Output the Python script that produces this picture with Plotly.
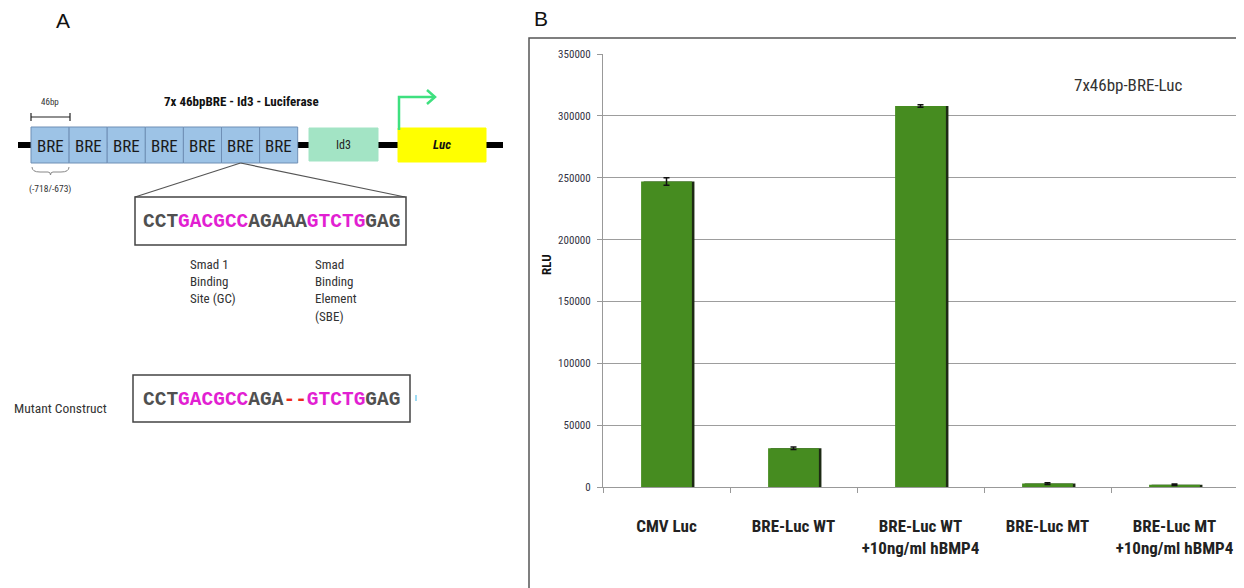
import plotly.graph_objects as go

# page pixels; the HTML body adds an 8px margin, so figure pixel = page pixel - 8
PAGE_W, PAGE_H = 1244, 588
OFF = 8
W, H = PAGE_W - OFF, PAGE_H - OFF

# ---------------- data (panel B) ----------------
categories = ["CMV Luc", "BRE-Luc WT", "BRE-Luc WT<br>+10ng/ml hBMP4",
              "BRE-Luc MT", "BRE-Luc MT<br>+10ng/ml hBMP4"]
rlu = [247000, 31500, 308000, 3000, 2000]
rlu_err = [3000, 1000, 1000, 700, 600]
y_tickvals = [0, 50000, 100000, 150000, 200000, 250000, 300000, 350000]

# ---------------- panel A text content ----------------
bre_labels = ["BRE"] * 7
construct_title = "7x 46bpBRE - Id3 - Luciferase"
wt_seq = [("CCT", "g"), ("GACGCC", "m"), ("AGAAA", "g"), ("GTCTG", "m"), ("GAG", "g")]
mt_seq = [("CCT", "g"), ("GACGCC", "m"), ("AGA", "g"), ("--", "r"), ("GTCTG", "m"), ("GAG", "g")]
smad1_lines = ["Smad 1", "Binding", "Site (GC)"]
sbe_lines = ["Smad", "Binding", "Element", "(SBE)"]

SEQ_COL = {"g": "#505050", "m": "#e21fd2", "r": "#ee2a1a"}
NARROW = "Liberation Sans Narrow, Roboto Condensed, Liberation Sans, sans-serif"
MONO = "Liberation Mono, Courier New, monospace"
GREEN = "#468c20"


def px(x):
    return (x - OFF) / W


def py(y):
    return 1 - (y - OFF) / H


def seq_html(segs):
    return "".join(f'<span style="color:{SEQ_COL[c]}">{s}</span>' for s, c in segs)


def note(x, y, text, size, color="#333", family=NARROW, xanchor="center", **kw):
    return dict(x=px(x), y=py(y), xref="paper", yref="paper", text=text,
                showarrow=False, xanchor=xanchor, yanchor="middle",
                font=dict(family=family, size=size, color=color), **kw)


def line(x0, y0, x1, y1, color, width):
    return dict(type="line", xref="paper", yref="paper",
                x0=px(x0), x1=px(x1), y0=py(y0), y1=py(y1),
                line=dict(color=color, width=width))


def rect(x0, y0, x1, y1, fill, lcolor, lwidth=1):
    return dict(type="rect", xref="paper", yref="paper",
                x0=px(x0), x1=px(x1), y0=py(y1), y1=py(y0),
                fillcolor=fill, line=dict(color=lcolor, width=lwidth))


def path(points, color, width):
    d = " ".join(f"{cmd} {px(a)},{py(b)}" for cmd, a, b in points)
    return dict(type="path", xref="paper", yref="paper", path=d,
                line=dict(color=color, width=width))


fig = go.Figure()

# shadow bars (dark right edge) then green bars
fig.add_trace(go.Bar(x=categories, y=rlu, width=0.4, offset=-0.18,
                     marker=dict(color="#1d2a14", line=dict(width=0)),
                     hoverinfo="skip", showlegend=False))
fig.add_trace(go.Bar(x=categories, y=rlu, width=0.4, offset=-0.2,
                     marker=dict(color=GREEN, line=dict(width=0)),
                     error_y=dict(type="data", array=rlu_err, color="#111",
                                  thickness=1.5, width=3),
                     showlegend=False))

shapes = []
annotations = []

# ---------------- panel B frame ----------------
fr = rect(529, 38, 1238, 640, "rgba(0,0,0,0)", "#555", 1.5)
fr["layer"] = "below"
shapes.append(fr)

# ---------------- panel A diagram ----------------
shapes.append(line(18, 145, 503, 145, "#000", 6))
bx0, bw = 31, 38.1
for i, lab in enumerate(bre_labels):
    x0 = bx0 + i * bw
    shapes.append(rect(x0, 127, x0 + bw, 163, "#9dc3e6", "#6f8fb5", 1))
    annotations.append(note(x0 + bw / 2, 146, lab, 17, "#1a1a1a"))
# Id3
shapes.append(rect(309, 128, 378, 161, "#a3e4c5", "#a3e4c5", 1))
annotations.append(note(343.5, 145, "Id3", 12, "#222"))
# Luc
shapes.append(rect(398, 128, 486, 162, "#ffff00", "#ffff00", 1))
annotations.append(note(442, 145, "<b><i>Luc</i></b>", 13, "#111"))
# green promoter arrow
shapes.append(path([("M", 399, 130), ("L", 399, 97), ("L", 435, 97)], "#3ee07f", 2.5))
shapes.append(path([("M", 427, 90), ("L", 435, 97), ("L", 427, 104)], "#3ee07f", 2.5))
# 46bp bracket
shapes.append(line(31, 117, 70, 117, "#222", 1.2))
for xx in (31, 70):
    shapes.append(line(xx, 113, xx, 121, "#222", 1.2))
annotations.append(note(50, 102, "46bp", 9))
# brace under first BRE
shapes.append(path([("M", 32, 167), ("Q", 32, 172), ("", 40, 172), ("L", 48, 172),
                    ("Q", 50.5, 172), ("", 50.5, 175), ("Q", 50.5, 172), ("", 53, 172),
                    ("L", 61, 172), ("Q", 69, 172), ("", 69, 167)], "#888", 1))
annotations.append(note(50, 189, "(-718/-673)", 9.5))
# construct title
annotations.append(note(241, 101, f"<b>{construct_title}</b>", 13, "#111"))
# zoom lines from 6th BRE
zx = bx0 + 5.5 * bw
for xx in (135, 405):
    shapes.append(line(zx, 163, xx, 197, "#555", 1.2))
# WT sequence box
shapes.append(rect(135, 197, 406, 245, "white", "#444", 1.5))
annotations.append(note(271, 222, f"<b>{seq_html(wt_seq)}</b>", 19.5, family=MONO))
# Smad labels
for i, t in enumerate(smad1_lines):
    annotations.append(note(188, 265 + i * 17, t, 13, xanchor="left"))
for i, t in enumerate(sbe_lines):
    annotations.append(note(313, 265 + i * 17, t, 13, xanchor="left"))
# Mutant
annotations.append(note(12, 408, "Mutant Construct", 13.5, xanchor="left"))
shapes.append(rect(133, 375, 410, 422, "white", "#444", 1.5))
annotations.append(note(271, 400, f"<b>{seq_html(mt_seq)}</b>", 19.5, family=MONO))
shapes.append(line(416, 395, 416, 401, "#7fd0f0", 1.5))

# panel letters
annotations.append(note(63, 21, "A", 21, "#111", family="Liberation Sans, Arial"))
annotations.append(note(541, 19, "B", 21, "#111", family="Liberation Sans, Arial"))
# chart label
annotations.append(note(1128, 85, "7x46bp-BRE-Luc", 17, "#333"))
# y title
annotations.append(note(547, 265, "<b>RLU</b>", 13, "#111", textangle=-90))

fig.update_layout(
    width=W, height=H,
    margin=dict(l=0, r=0, t=0, b=0, autoexpand=False),
    paper_bgcolor="white", plot_bgcolor="white",
    barmode="overlay",
    shapes=shapes, annotations=annotations,
    xaxis=dict(domain=[px(603), px(1238)], type="category", automargin=False,
               tickson="boundaries", ticks="outside", ticklen=5, tickcolor="#999",
               showline=True, linecolor="#999", linewidth=1.2, tickangle=0,
               showgrid=False, ticklabelstandoff=23,
               tickfont=dict(family=NARROW, size=17, color="#222", weight="bold")),
    yaxis=dict(domain=[py(487.3), py(54)], range=[0, 350000], automargin=False,
               tickvals=y_tickvals, tickformat="d",
               showgrid=True, gridcolor="#9d9d9d", gridwidth=1.2,
               showline=True, linecolor="#999", linewidth=1.2,
               ticks="outside", ticklen=5, tickcolor="#999", zeroline=False,
               tickfont=dict(family=NARROW, size=11, color="#334"),
               ticklabelstandoff=4),
)

fig.write_html("out.html")
